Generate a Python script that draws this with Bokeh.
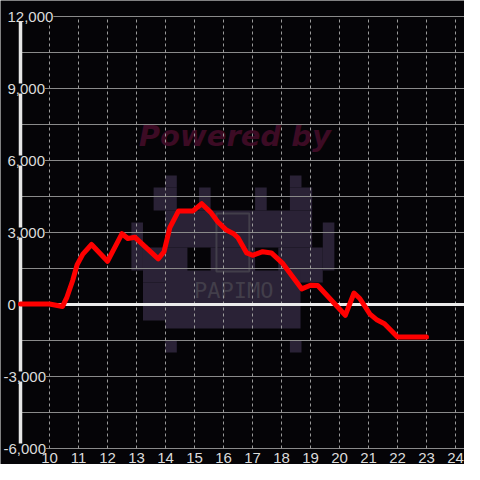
from bokeh.plotting import figure
from bokeh.models import Range1d
from bokeh.core.properties import value
from bokeh.embed import file_html
from bokeh.resources import INLINE

# ---- data ----
HOURS = [9.0, 10.0, 10.45, 10.6, 10.8, 10.95, 11.15, 11.45, 12.0, 12.5, 12.7, 12.95,
         13.75, 13.95, 14.15, 14.45, 14.95, 15.25, 15.55, 15.8, 16.1, 16.35, 16.5, 16.8,
         17.0, 17.35, 17.65, 18.05, 18.7, 19.0, 19.25, 20.2, 20.5, 20.7, 21.05, 21.3,
         21.55, 22.0, 23.0]
VALUES = [20, 20, -80, 300, 1000, 1650, 2100, 2500, 1800, 2950, 2750, 2800,
          1900, 2200, 3200, 3900, 3900, 4200, 3850, 3450, 3100, 2950, 2780, 2150,
          2050, 2200, 2150, 1700, 650, 800, 790, -450, 480, 250, -400, -650,
          -800, -1350, -1350]
X_TICKS = [10, 11, 12, 13, 14, 15, 16, 17, 18, 19, 20, 21, 22, 23, 24]
X_LABELS = ["10", "11", "12", "13", "14", "15", "16", "17", "18", "19", "20", "21", "22", "23", "24"]
Y_LABEL_TICKS = [-6000, -3000, 0, 3000, 6000, 9000, 12000]
Y_LABELS = ["-6,000", "-3,000", "0", "3,000", "6,000", "9,000", "12,000"]
Y_GRID = [-6000, -4500, -3000, -1500, 0, 1500, 3000, 4500, 6000, 7500, 9000, 10500, 12000]
AXIS_X = 9
Y_MIN, Y_MAX = -6000, 12000
WATERMARK_TEXT = "Powered by"
LOGO_TEXT = "PAPIMO"

# ---- styling / layout (screen mapping) ----
BG = "#050407"
LABEL_COLOR = "#dcdcdc"
W, H = 464, 464
PX_PER_X = 29.0            # pixels per hour
AXIS_PX = 20               # screen x of the y axis line
TOP_PX, BOTTOM_PX = 16, 448  # screen y of Y_MAX and Y_MIN
PX_PER_Y = (BOTTOM_PX - TOP_PX) / (Y_MAX - Y_MIN)

X0 = AXIS_X - AXIS_PX / PX_PER_X
X1 = X0 + W / PX_PER_X
Y1 = Y_MAX + TOP_PX / PX_PER_Y
Y0 = Y_MIN - (H - BOTTOM_PX) / PX_PER_Y

p = figure(width=W, height=H, output_backend="svg", toolbar_location=None,
           x_range=Range1d(X0, X1), y_range=Range1d(Y0, Y1),
           x_axis_location=None, y_axis_location=None, min_border=0)
p.background_fill_color = BG
p.border_fill_color = BG
p.outline_line_color = None
p.grid.visible = False


# ---- faint watermark (reference pixel positions converted to data) ----
def rx(px):
    return 10 + (px - 50.3) / 30.0


def ry(py):
    return (304 - py) / 0.024


WATERMARK_BLOCKS = [
    (170, 175, 182, 187), (299, 175, 311, 187),
    (158, 187, 182, 210), (299, 187, 322, 210),
    (205, 187, 217, 210), (263, 187, 275, 210),
    (170, 210, 322, 247),
    (135, 222, 147, 270), (333, 222, 345, 270),
    (147, 247, 193, 282), (217, 247, 263, 282), (287, 247, 333, 282),
    (170, 270, 310, 328), (147, 282, 170, 320),
    (170, 340, 182, 352), (299, 340, 311, 352),
]
p.quad(left=[rx(b[0]) for b in WATERMARK_BLOCKS], right=[rx(b[2]) for b in WATERMARK_BLOCKS],
       top=[ry(b[1]) for b in WATERMARK_BLOCKS], bottom=[ry(b[3]) for b in WATERMARK_BLOCKS],
       fill_color="#2a2236", line_color=None)
p.quad(left=[rx(223)], right=[rx(257)], top=[ry(213)], bottom=[ry(271)],
       fill_color=None, line_color="#423e4a", line_width=2)
p.text(x=[rx(241)], y=[ry(290)], text=[LOGO_TEXT], text_font=value("DejaVu Sans Mono"),
       text_font_size="22px", text_color="#423e4a", text_align="center",
       text_baseline="middle")
p.text(x=[rx(242)], y=[ry(135)], text=[WATERMARK_TEXT], text_font=value("DejaVu Sans"),
       text_font_style="bold italic", text_font_size="29px", text_color="#3c0b24",
       text_align="center", text_baseline="alphabetic")

# ---- grid lines ----
p.segment(x0=[AXIS_X] * len(Y_GRID), y0=Y_GRID, x1=[X1] * len(Y_GRID), y1=Y_GRID,
          line_color="#8a8a8a", line_width=1)
p.segment(x0=X_TICKS, y0=[Y_MIN] * len(X_TICKS), x1=X_TICKS, y1=[Y_MAX] * len(X_TICKS),
          line_color="#9a9a9a", line_width=1, line_dash="3 3")

# ---- axis line and zero line ----
p.segment(x0=[AXIS_X], y0=[Y_MIN], x1=[AXIS_X], y1=[Y_MAX],
          line_color="#e6e6e6", line_width=3.5)
p.segment(x0=[AXIS_X], y0=[0], x1=[X1], y1=[0], line_color="#ececec", line_width=3)

# ---- data line ----
p.line(HOURS, VALUES, line_color="#ff0000", line_width=5, line_join="round", line_cap="round")

# ---- tick labels ----
label_xs = [X0 + (3 if v < 0 else 7) / PX_PER_X for v in Y_LABEL_TICKS]
p.text(x=label_xs, y=Y_LABEL_TICKS, text=Y_LABELS,
       text_font=value("Liberation Sans"), text_font_size="15px", text_color=LABEL_COLOR,
       text_align="left", text_baseline="middle", background_fill_color=BG)
x_label_y = Y_MIN - 9 / PX_PER_Y
p.text(x=X_TICKS, y=[x_label_y] * len(X_TICKS), text=X_LABELS,
       text_font=value("Liberation Sans"), text_font_size="15px", text_color=LABEL_COLOR,
       text_align="center", text_baseline="middle")

open("out.html", "w").write(file_html(p, INLINE))
